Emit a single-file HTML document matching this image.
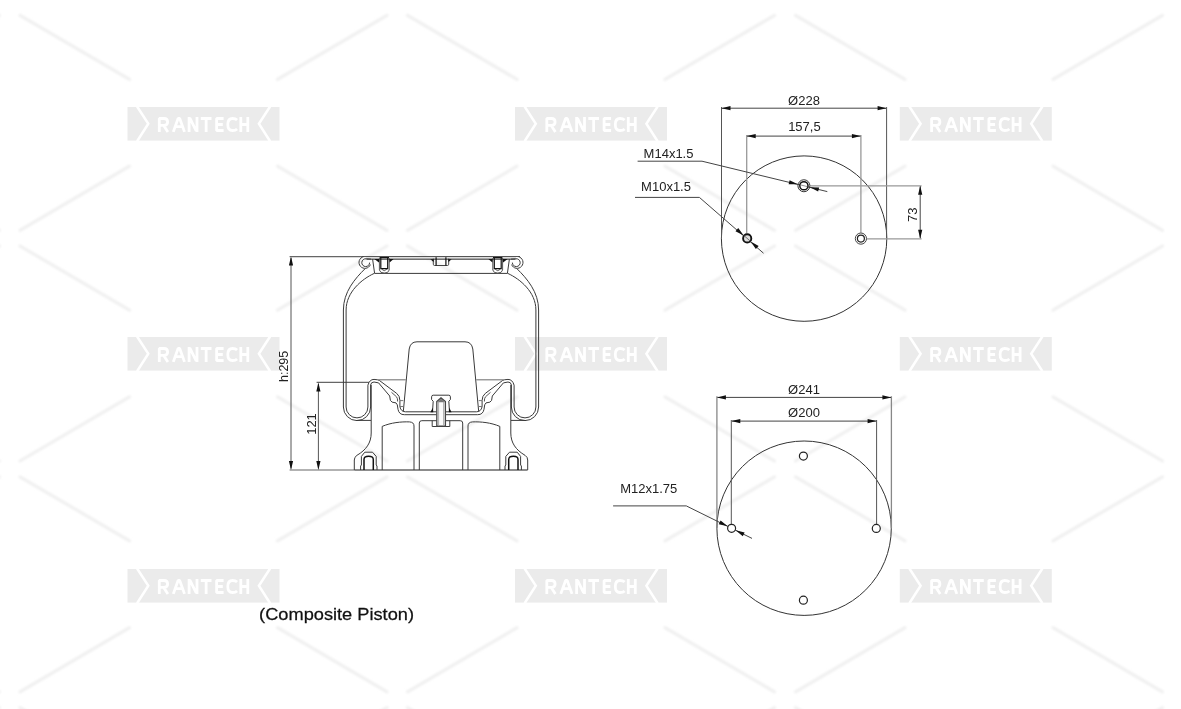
<!DOCTYPE html>
<html><head><meta charset="utf-8">
<style>
html,body{margin:0;padding:0;background:#fff;width:1181px;height:709px;overflow:hidden}
svg{display:block;filter:grayscale(1)}
text{font-family:"Liberation Sans",sans-serif}
</style></head>
<body>
<svg width="1181" height="709" viewBox="0 0 1181 709">
<defs>
<filter id="bl" x="-10%" y="-10%" width="120%" height="120%"><feGaussianBlur stdDeviation="1.2"/></filter>



</defs>

<!-- watermark grid -->
<g id="wmgrid">
  <g transform="translate(-184.2,122.8)">
  <g stroke="#f0f0f0" stroke-width="3.1" stroke-linecap="round" filter="url(#bl)">
    <line x1="-74" y1="-43.4" x2="-183.5" y2="-107.5"/>
    <line x1="74" y1="-43.4" x2="183.5" y2="-107.5"/>
    <line x1="-74" y1="43.4" x2="-183.5" y2="107.5"/>
    <line x1="74" y1="43.4" x2="183.5" y2="107.5"/>
  </g>
</g><g transform="translate(203.5,122.8)">
  <g stroke="#f0f0f0" stroke-width="3.1" stroke-linecap="round" filter="url(#bl)">
    <line x1="-74" y1="-43.4" x2="-183.5" y2="-107.5"/>
    <line x1="74" y1="-43.4" x2="183.5" y2="-107.5"/>
    <line x1="-74" y1="43.4" x2="-183.5" y2="107.5"/>
    <line x1="74" y1="43.4" x2="183.5" y2="107.5"/>
  </g>
</g><g transform="translate(591,122.8)">
  <g stroke="#f0f0f0" stroke-width="3.1" stroke-linecap="round" filter="url(#bl)">
    <line x1="-74" y1="-43.4" x2="-183.5" y2="-107.5"/>
    <line x1="74" y1="-43.4" x2="183.5" y2="-107.5"/>
    <line x1="-74" y1="43.4" x2="-183.5" y2="107.5"/>
    <line x1="74" y1="43.4" x2="183.5" y2="107.5"/>
  </g>
</g><g transform="translate(979,122.8)">
  <g stroke="#f0f0f0" stroke-width="3.1" stroke-linecap="round" filter="url(#bl)">
    <line x1="-74" y1="-43.4" x2="-183.5" y2="-107.5"/>
    <line x1="74" y1="-43.4" x2="183.5" y2="-107.5"/>
    <line x1="-74" y1="43.4" x2="-183.5" y2="107.5"/>
    <line x1="74" y1="43.4" x2="183.5" y2="107.5"/>
  </g>
</g>
  <g transform="translate(-184.2,353.5)">
  <g stroke="#f0f0f0" stroke-width="3.1" stroke-linecap="round" filter="url(#bl)">
    <line x1="-74" y1="-43.4" x2="-183.5" y2="-107.5"/>
    <line x1="74" y1="-43.4" x2="183.5" y2="-107.5"/>
    <line x1="-74" y1="43.4" x2="-183.5" y2="107.5"/>
    <line x1="74" y1="43.4" x2="183.5" y2="107.5"/>
  </g>
</g><g transform="translate(203.5,353.5)">
  <g stroke="#f0f0f0" stroke-width="3.1" stroke-linecap="round" filter="url(#bl)">
    <line x1="-74" y1="-43.4" x2="-183.5" y2="-107.5"/>
    <line x1="74" y1="-43.4" x2="183.5" y2="-107.5"/>
    <line x1="-74" y1="43.4" x2="-183.5" y2="107.5"/>
    <line x1="74" y1="43.4" x2="183.5" y2="107.5"/>
  </g>
</g><g transform="translate(591,353.5)">
  <g stroke="#f0f0f0" stroke-width="3.1" stroke-linecap="round" filter="url(#bl)">
    <line x1="-74" y1="-43.4" x2="-183.5" y2="-107.5"/>
    <line x1="74" y1="-43.4" x2="183.5" y2="-107.5"/>
    <line x1="-74" y1="43.4" x2="-183.5" y2="107.5"/>
    <line x1="74" y1="43.4" x2="183.5" y2="107.5"/>
  </g>
</g><g transform="translate(979,353.5)">
  <g stroke="#f0f0f0" stroke-width="3.1" stroke-linecap="round" filter="url(#bl)">
    <line x1="-74" y1="-43.4" x2="-183.5" y2="-107.5"/>
    <line x1="74" y1="-43.4" x2="183.5" y2="-107.5"/>
    <line x1="-74" y1="43.4" x2="-183.5" y2="107.5"/>
    <line x1="74" y1="43.4" x2="183.5" y2="107.5"/>
  </g>
</g>
  <g transform="translate(-184.2,584.3)">
  <g stroke="#f0f0f0" stroke-width="3.1" stroke-linecap="round" filter="url(#bl)">
    <line x1="-74" y1="-43.4" x2="-183.5" y2="-107.5"/>
    <line x1="74" y1="-43.4" x2="183.5" y2="-107.5"/>
    <line x1="-74" y1="43.4" x2="-183.5" y2="107.5"/>
    <line x1="74" y1="43.4" x2="183.5" y2="107.5"/>
  </g>
</g><g transform="translate(203.5,584.3)">
  <g stroke="#f0f0f0" stroke-width="3.1" stroke-linecap="round" filter="url(#bl)">
    <line x1="-74" y1="-43.4" x2="-183.5" y2="-107.5"/>
    <line x1="74" y1="-43.4" x2="183.5" y2="-107.5"/>
    <line x1="-74" y1="43.4" x2="-183.5" y2="107.5"/>
    <line x1="74" y1="43.4" x2="183.5" y2="107.5"/>
  </g>
</g><g transform="translate(591,584.3)">
  <g stroke="#f0f0f0" stroke-width="3.1" stroke-linecap="round" filter="url(#bl)">
    <line x1="-74" y1="-43.4" x2="-183.5" y2="-107.5"/>
    <line x1="74" y1="-43.4" x2="183.5" y2="-107.5"/>
    <line x1="-74" y1="43.4" x2="-183.5" y2="107.5"/>
    <line x1="74" y1="43.4" x2="183.5" y2="107.5"/>
  </g>
</g><g transform="translate(979,584.3)">
  <g stroke="#f0f0f0" stroke-width="3.1" stroke-linecap="round" filter="url(#bl)">
    <line x1="-74" y1="-43.4" x2="-183.5" y2="-107.5"/>
    <line x1="74" y1="-43.4" x2="183.5" y2="-107.5"/>
    <line x1="-74" y1="43.4" x2="-183.5" y2="107.5"/>
    <line x1="74" y1="43.4" x2="183.5" y2="107.5"/>
  </g>
</g>
  <g transform="translate(-184.2,815.1)">
  <g stroke="#f0f0f0" stroke-width="3.1" stroke-linecap="round" filter="url(#bl)">
    <line x1="-74" y1="-43.4" x2="-183.5" y2="-107.5"/>
    <line x1="74" y1="-43.4" x2="183.5" y2="-107.5"/>
    <line x1="-74" y1="43.4" x2="-183.5" y2="107.5"/>
    <line x1="74" y1="43.4" x2="183.5" y2="107.5"/>
  </g>
</g><g transform="translate(203.5,815.1)">
  <g stroke="#f0f0f0" stroke-width="3.1" stroke-linecap="round" filter="url(#bl)">
    <line x1="-74" y1="-43.4" x2="-183.5" y2="-107.5"/>
    <line x1="74" y1="-43.4" x2="183.5" y2="-107.5"/>
    <line x1="-74" y1="43.4" x2="-183.5" y2="107.5"/>
    <line x1="74" y1="43.4" x2="183.5" y2="107.5"/>
  </g>
</g><g transform="translate(591,815.1)">
  <g stroke="#f0f0f0" stroke-width="3.1" stroke-linecap="round" filter="url(#bl)">
    <line x1="-74" y1="-43.4" x2="-183.5" y2="-107.5"/>
    <line x1="74" y1="-43.4" x2="183.5" y2="-107.5"/>
    <line x1="-74" y1="43.4" x2="-183.5" y2="107.5"/>
    <line x1="74" y1="43.4" x2="183.5" y2="107.5"/>
  </g>
</g><g transform="translate(979,815.1)">
  <g stroke="#f0f0f0" stroke-width="3.1" stroke-linecap="round" filter="url(#bl)">
    <line x1="-74" y1="-43.4" x2="-183.5" y2="-107.5"/>
    <line x1="74" y1="-43.4" x2="183.5" y2="-107.5"/>
    <line x1="-74" y1="43.4" x2="-183.5" y2="107.5"/>
    <line x1="74" y1="43.4" x2="183.5" y2="107.5"/>
  </g>
</g>
  <g transform="translate(203.5,124)">
  <rect x="-76" y="-17" width="152" height="33.6" fill="#ebebeb"/>
  <polyline points="-66.4,-17.5 -55.2,-0.2 -66.4,17.2" fill="none" stroke="#fff" stroke-width="2.5"/>
  <polyline points="66.6,-17.5 55.4,-0.2 66.6,17.2" fill="none" stroke="#fff" stroke-width="2.5"/>
  <path fill="none" stroke="#fff" stroke-width="2.8" stroke-linejoin="bevel" d="M-44.2,7.9 V-5.5 H-39.5 Q-35.9,-5.5 -35.9,-2 Q-35.9,1.4 -39.5,1.4 H-44.2 M-39.8,1.4 L-35.6,7.9 M-30.2,7.9 L-25.4,-5.5 H-23.8 L-19,7.9 M-28.2,2.7 H-21 M-14.4,7.9 V-6.9 M-6.5,-6.9 V7.9 M-13.6,-5.8 L-7.3,6.8 M-2.7,-5.5 H8 M2.65,-5.5 V7.9 M20.1,-5.5 H13.1 V6.5 H20.1 M13.1,0.5 H19.3 M33.6,-3.9 Q32,-5.5 29,-5.5 Q24.3,-5.5 24.3,0.5 Q24.3,6.5 29,6.5 Q32,6.5 33.6,4.9 M37.3,-6.9 V7.9 M44.3,-6.9 V7.9 M37.3,0.5 H44.3"/>
</g><g transform="translate(591,124)">
  <rect x="-76" y="-17" width="152" height="33.6" fill="#ebebeb"/>
  <polyline points="-66.4,-17.5 -55.2,-0.2 -66.4,17.2" fill="none" stroke="#fff" stroke-width="2.5"/>
  <polyline points="66.6,-17.5 55.4,-0.2 66.6,17.2" fill="none" stroke="#fff" stroke-width="2.5"/>
  <path fill="none" stroke="#fff" stroke-width="2.8" stroke-linejoin="bevel" d="M-44.2,7.9 V-5.5 H-39.5 Q-35.9,-5.5 -35.9,-2 Q-35.9,1.4 -39.5,1.4 H-44.2 M-39.8,1.4 L-35.6,7.9 M-30.2,7.9 L-25.4,-5.5 H-23.8 L-19,7.9 M-28.2,2.7 H-21 M-14.4,7.9 V-6.9 M-6.5,-6.9 V7.9 M-13.6,-5.8 L-7.3,6.8 M-2.7,-5.5 H8 M2.65,-5.5 V7.9 M20.1,-5.5 H13.1 V6.5 H20.1 M13.1,0.5 H19.3 M33.6,-3.9 Q32,-5.5 29,-5.5 Q24.3,-5.5 24.3,0.5 Q24.3,6.5 29,6.5 Q32,6.5 33.6,4.9 M37.3,-6.9 V7.9 M44.3,-6.9 V7.9 M37.3,0.5 H44.3"/>
</g><g transform="translate(975.8,124)">
  <rect x="-76" y="-17" width="152" height="33.6" fill="#ebebeb"/>
  <polyline points="-66.4,-17.5 -55.2,-0.2 -66.4,17.2" fill="none" stroke="#fff" stroke-width="2.5"/>
  <polyline points="66.6,-17.5 55.4,-0.2 66.6,17.2" fill="none" stroke="#fff" stroke-width="2.5"/>
  <path fill="none" stroke="#fff" stroke-width="2.8" stroke-linejoin="bevel" d="M-44.2,7.9 V-5.5 H-39.5 Q-35.9,-5.5 -35.9,-2 Q-35.9,1.4 -39.5,1.4 H-44.2 M-39.8,1.4 L-35.6,7.9 M-30.2,7.9 L-25.4,-5.5 H-23.8 L-19,7.9 M-28.2,2.7 H-21 M-14.4,7.9 V-6.9 M-6.5,-6.9 V7.9 M-13.6,-5.8 L-7.3,6.8 M-2.7,-5.5 H8 M2.65,-5.5 V7.9 M20.1,-5.5 H13.1 V6.5 H20.1 M13.1,0.5 H19.3 M33.6,-3.9 Q32,-5.5 29,-5.5 Q24.3,-5.5 24.3,0.5 Q24.3,6.5 29,6.5 Q32,6.5 33.6,4.9 M37.3,-6.9 V7.9 M44.3,-6.9 V7.9 M37.3,0.5 H44.3"/>
</g>
  <g transform="translate(203.5,354)">
  <rect x="-76" y="-17" width="152" height="33.6" fill="#ebebeb"/>
  <polyline points="-66.4,-17.5 -55.2,-0.2 -66.4,17.2" fill="none" stroke="#fff" stroke-width="2.5"/>
  <polyline points="66.6,-17.5 55.4,-0.2 66.6,17.2" fill="none" stroke="#fff" stroke-width="2.5"/>
  <path fill="none" stroke="#fff" stroke-width="2.8" stroke-linejoin="bevel" d="M-44.2,7.9 V-5.5 H-39.5 Q-35.9,-5.5 -35.9,-2 Q-35.9,1.4 -39.5,1.4 H-44.2 M-39.8,1.4 L-35.6,7.9 M-30.2,7.9 L-25.4,-5.5 H-23.8 L-19,7.9 M-28.2,2.7 H-21 M-14.4,7.9 V-6.9 M-6.5,-6.9 V7.9 M-13.6,-5.8 L-7.3,6.8 M-2.7,-5.5 H8 M2.65,-5.5 V7.9 M20.1,-5.5 H13.1 V6.5 H20.1 M13.1,0.5 H19.3 M33.6,-3.9 Q32,-5.5 29,-5.5 Q24.3,-5.5 24.3,0.5 Q24.3,6.5 29,6.5 Q32,6.5 33.6,4.9 M37.3,-6.9 V7.9 M44.3,-6.9 V7.9 M37.3,0.5 H44.3"/>
</g><g transform="translate(591,354)">
  <rect x="-76" y="-17" width="152" height="33.6" fill="#ebebeb"/>
  <polyline points="-66.4,-17.5 -55.2,-0.2 -66.4,17.2" fill="none" stroke="#fff" stroke-width="2.5"/>
  <polyline points="66.6,-17.5 55.4,-0.2 66.6,17.2" fill="none" stroke="#fff" stroke-width="2.5"/>
  <path fill="none" stroke="#fff" stroke-width="2.8" stroke-linejoin="bevel" d="M-44.2,7.9 V-5.5 H-39.5 Q-35.9,-5.5 -35.9,-2 Q-35.9,1.4 -39.5,1.4 H-44.2 M-39.8,1.4 L-35.6,7.9 M-30.2,7.9 L-25.4,-5.5 H-23.8 L-19,7.9 M-28.2,2.7 H-21 M-14.4,7.9 V-6.9 M-6.5,-6.9 V7.9 M-13.6,-5.8 L-7.3,6.8 M-2.7,-5.5 H8 M2.65,-5.5 V7.9 M20.1,-5.5 H13.1 V6.5 H20.1 M13.1,0.5 H19.3 M33.6,-3.9 Q32,-5.5 29,-5.5 Q24.3,-5.5 24.3,0.5 Q24.3,6.5 29,6.5 Q32,6.5 33.6,4.9 M37.3,-6.9 V7.9 M44.3,-6.9 V7.9 M37.3,0.5 H44.3"/>
</g><g transform="translate(975.8,354)">
  <rect x="-76" y="-17" width="152" height="33.6" fill="#ebebeb"/>
  <polyline points="-66.4,-17.5 -55.2,-0.2 -66.4,17.2" fill="none" stroke="#fff" stroke-width="2.5"/>
  <polyline points="66.6,-17.5 55.4,-0.2 66.6,17.2" fill="none" stroke="#fff" stroke-width="2.5"/>
  <path fill="none" stroke="#fff" stroke-width="2.8" stroke-linejoin="bevel" d="M-44.2,7.9 V-5.5 H-39.5 Q-35.9,-5.5 -35.9,-2 Q-35.9,1.4 -39.5,1.4 H-44.2 M-39.8,1.4 L-35.6,7.9 M-30.2,7.9 L-25.4,-5.5 H-23.8 L-19,7.9 M-28.2,2.7 H-21 M-14.4,7.9 V-6.9 M-6.5,-6.9 V7.9 M-13.6,-5.8 L-7.3,6.8 M-2.7,-5.5 H8 M2.65,-5.5 V7.9 M20.1,-5.5 H13.1 V6.5 H20.1 M13.1,0.5 H19.3 M33.6,-3.9 Q32,-5.5 29,-5.5 Q24.3,-5.5 24.3,0.5 Q24.3,6.5 29,6.5 Q32,6.5 33.6,4.9 M37.3,-6.9 V7.9 M44.3,-6.9 V7.9 M37.3,0.5 H44.3"/>
</g>
  <g transform="translate(203.5,586)">
  <rect x="-76" y="-17" width="152" height="33.6" fill="#ebebeb"/>
  <polyline points="-66.4,-17.5 -55.2,-0.2 -66.4,17.2" fill="none" stroke="#fff" stroke-width="2.5"/>
  <polyline points="66.6,-17.5 55.4,-0.2 66.6,17.2" fill="none" stroke="#fff" stroke-width="2.5"/>
  <path fill="none" stroke="#fff" stroke-width="2.8" stroke-linejoin="bevel" d="M-44.2,7.9 V-5.5 H-39.5 Q-35.9,-5.5 -35.9,-2 Q-35.9,1.4 -39.5,1.4 H-44.2 M-39.8,1.4 L-35.6,7.9 M-30.2,7.9 L-25.4,-5.5 H-23.8 L-19,7.9 M-28.2,2.7 H-21 M-14.4,7.9 V-6.9 M-6.5,-6.9 V7.9 M-13.6,-5.8 L-7.3,6.8 M-2.7,-5.5 H8 M2.65,-5.5 V7.9 M20.1,-5.5 H13.1 V6.5 H20.1 M13.1,0.5 H19.3 M33.6,-3.9 Q32,-5.5 29,-5.5 Q24.3,-5.5 24.3,0.5 Q24.3,6.5 29,6.5 Q32,6.5 33.6,4.9 M37.3,-6.9 V7.9 M44.3,-6.9 V7.9 M37.3,0.5 H44.3"/>
</g><g transform="translate(591,586)">
  <rect x="-76" y="-17" width="152" height="33.6" fill="#ebebeb"/>
  <polyline points="-66.4,-17.5 -55.2,-0.2 -66.4,17.2" fill="none" stroke="#fff" stroke-width="2.5"/>
  <polyline points="66.6,-17.5 55.4,-0.2 66.6,17.2" fill="none" stroke="#fff" stroke-width="2.5"/>
  <path fill="none" stroke="#fff" stroke-width="2.8" stroke-linejoin="bevel" d="M-44.2,7.9 V-5.5 H-39.5 Q-35.9,-5.5 -35.9,-2 Q-35.9,1.4 -39.5,1.4 H-44.2 M-39.8,1.4 L-35.6,7.9 M-30.2,7.9 L-25.4,-5.5 H-23.8 L-19,7.9 M-28.2,2.7 H-21 M-14.4,7.9 V-6.9 M-6.5,-6.9 V7.9 M-13.6,-5.8 L-7.3,6.8 M-2.7,-5.5 H8 M2.65,-5.5 V7.9 M20.1,-5.5 H13.1 V6.5 H20.1 M13.1,0.5 H19.3 M33.6,-3.9 Q32,-5.5 29,-5.5 Q24.3,-5.5 24.3,0.5 Q24.3,6.5 29,6.5 Q32,6.5 33.6,4.9 M37.3,-6.9 V7.9 M44.3,-6.9 V7.9 M37.3,0.5 H44.3"/>
</g><g transform="translate(975.8,586)">
  <rect x="-76" y="-17" width="152" height="33.6" fill="#ebebeb"/>
  <polyline points="-66.4,-17.5 -55.2,-0.2 -66.4,17.2" fill="none" stroke="#fff" stroke-width="2.5"/>
  <polyline points="66.6,-17.5 55.4,-0.2 66.6,17.2" fill="none" stroke="#fff" stroke-width="2.5"/>
  <path fill="none" stroke="#fff" stroke-width="2.8" stroke-linejoin="bevel" d="M-44.2,7.9 V-5.5 H-39.5 Q-35.9,-5.5 -35.9,-2 Q-35.9,1.4 -39.5,1.4 H-44.2 M-39.8,1.4 L-35.6,7.9 M-30.2,7.9 L-25.4,-5.5 H-23.8 L-19,7.9 M-28.2,2.7 H-21 M-14.4,7.9 V-6.9 M-6.5,-6.9 V7.9 M-13.6,-5.8 L-7.3,6.8 M-2.7,-5.5 H8 M2.65,-5.5 V7.9 M20.1,-5.5 H13.1 V6.5 H20.1 M13.1,0.5 H19.3 M33.6,-3.9 Q32,-5.5 29,-5.5 Q24.3,-5.5 24.3,0.5 Q24.3,6.5 29,6.5 Q32,6.5 33.6,4.9 M37.3,-6.9 V7.9 M44.3,-6.9 V7.9 M37.3,0.5 H44.3"/>
</g>
</g>

<!-- LEFT DRAWING -->
<g id="side" fill="none">
  <!-- dimension lines -->
  <g stroke="#666" stroke-width="1.2">
    <path d="M289.6,256.6 H362 M289.6,470 H354.3 M316.6,382.4 H369"/>
  </g>
  <g stroke="#555" stroke-width="1">
    <path d="M291,258 V468.5 M318.4,383.8 V468.5"/>
    <path d="M291.00,256.60 L293.10,265.60 L288.90,265.60 Z M291.00,470.00 L288.90,461.00 L293.10,461.00 Z M318.40,382.40 L320.50,391.40 L316.30,391.40 Z M318.40,470.00 L316.30,461.00 L320.50,461.00 Z" fill="#111" stroke="none"/>
  </g>
  <text transform="translate(287.6,366.4) rotate(-90)" text-anchor="middle" font-size="12.5" fill="#222">h:295</text>
  <text transform="translate(315.5,424) rotate(-90)" text-anchor="middle" font-size="13" fill="#222">121</text>
  <!-- bottom base line -->
  <path d="M354.3,470 H527.6" stroke="#666" stroke-width="1.4"/>
  <g id="halfL" stroke="#3a3a3a" stroke-width="1">
    <!-- top plate -->
    <rect x="366" y="256.8" width="75" height="2.3" fill="#dedede" stroke="none"/>
    <path d="M362,256.5 H441" stroke="#555" stroke-width="1.1"/>
    <path d="M366.5,259.2 H441" stroke="#333"/>
    <path d="M374.4,273.4 H441"/>
    <path d="M372.6,259.1 L374.6,273.4"/>
    <!-- curl -->
    <path d="M363.6,256.7 A5.9,5.9 0 1 0 370.4,264.6"/>
    <path d="M369.6,262.6 A3.9,3.9 0 1 1 366.2,258.8 L371,259.1"/>
    <!-- top stud -->
    <path d="M379.4,258 V270 Q380,273.1 384.3,273.1 Q388.6,273.1 389.2,270 V258" stroke="#555"/>
    <path d="M380.8,257.8 V268.6 H387.7 V257.8 M379.6,257.6 H389" stroke="#111" stroke-width="1.2"/>
    <path d="M381.6,269.2 Q384.3,272.2 386.9,269.2" stroke="#444" stroke-width="0.9"/>
    <path d="M374.4,259.1 H379.3 L378.9,262.6 Z M389.3,259.1 H393.6 L389.6,262.4 Z" fill="#111" stroke="none"/>
    <!-- center top stud -->
    <path d="M433.3,258.6 V264.2 Q433.3,265.5 434.6,265.5 H441" stroke="#444"/>
    <path d="M436.1,257.3 V265.4" stroke="#111" stroke-width="1.2"/>
    <path d="M430.4,259.2 H433.8 L433.5,261.9 Z" fill="#111" stroke="none"/>
    <!-- bellows -->
    <path d="M365.2,268.6 C355,278.5 343.4,292 343.4,310 L343.4,407 A13.6,13.6 0 0 0 370.6,407 L370.6,385 Q371,382 374,382 L378.6,382.9 L389.7,396 L390.4,400.4 Q391,402.6 396,402.9 Q397.6,403.6 398,409.3 Q399,414.7 404.3,414.7 H436.5"/>
    <path d="M374,273.5 C362,279 346.1,292 346.1,310 L346.1,407 A10.9,10.9 0 0 0 367.9,407 L367.9,385.2 Q369.5,379.4 374,379.4 L377.7,379.8 L379.3,380.4 L396.7,393.4 Q399.9,396 399.9,400.4 L399.9,406.7 Q401,411.8 405.6,411.8 H436.5"/>
    <path d="M391.5,392.3 L396.5,396.8 Q397.8,398.5 397.6,401.5" stroke="#555"/>
    <path d="M357,420.4 H371" />
    <!-- piston wall -->
    <path d="M371.2,385 V433 C371.2,443 366,450 357,455.3 Q354.3,457 354.3,460 V470"/>
    <!-- bump stop -->
    <path d="M403.3,411.6 L409.2,349 Q410.4,341.8 417,341.8 H441"/>
    <path d="M378.4,379.8 H405.8" stroke="#777" stroke-width="1.1"/>
    <path d="M399.9,400.6 H403.3 M399.9,406.5 H403" stroke="#777"/>
    <!-- windows -->
    <path d="M382.2,470 V426.4 C391,422.6 401,421.6 409.5,421.9 Q414,422.2 414,426 V470"/>
    <path d="M419.3,470 V423 Q419.3,420.7 421.8,420.7 H441"/>
    <!-- bottom stud -->
    <path d="M360.6,470 V466 L361.4,465 V456.4 L364.8,452.2 H372.5 L376.2,456.4 V465 L377,466 V470"/>
    <path d="M364,470 V459.4 Q364,456.3 368.6,456.3 Q373.3,456.3 373.3,459.4 V470" stroke="#111" stroke-width="1.5"/>
    <!-- center bottom stud: nut/bolt -->
    <path d="M432.5,412 L433.2,401.2 L431.6,399.6 V396.8 Q431.6,395.2 433.2,395.2 H441"/>
    <path d="M432.2,420.7 V426.5 H441"/>
    <path d="M430.4,412.2 L432.7,407.8 L433.3,412.2 Z" fill="#111" stroke="none"/>
  </g>
  <g stroke="#3a3a3a" stroke-width="1" transform="translate(882,0) scale(-1,1)">
    <!-- top plate -->
    <rect x="366" y="256.8" width="75" height="2.3" fill="#dedede" stroke="none"/>
    <path d="M362,256.5 H441" stroke="#555" stroke-width="1.1"/>
    <path d="M366.5,259.2 H441" stroke="#333"/>
    <path d="M374.4,273.4 H441"/>
    <path d="M372.6,259.1 L374.6,273.4"/>
    <!-- curl -->
    <path d="M363.6,256.7 A5.9,5.9 0 1 0 370.4,264.6"/>
    <path d="M369.6,262.6 A3.9,3.9 0 1 1 366.2,258.8 L371,259.1"/>
    <!-- top stud -->
    <path d="M379.4,258 V270 Q380,273.1 384.3,273.1 Q388.6,273.1 389.2,270 V258" stroke="#555"/>
    <path d="M380.8,257.8 V268.6 H387.7 V257.8 M379.6,257.6 H389" stroke="#111" stroke-width="1.2"/>
    <path d="M381.6,269.2 Q384.3,272.2 386.9,269.2" stroke="#444" stroke-width="0.9"/>
    <path d="M374.4,259.1 H379.3 L378.9,262.6 Z M389.3,259.1 H393.6 L389.6,262.4 Z" fill="#111" stroke="none"/>
    <!-- center top stud -->
    <path d="M433.3,258.6 V264.2 Q433.3,265.5 434.6,265.5 H441" stroke="#444"/>
    <path d="M436.1,257.3 V265.4" stroke="#111" stroke-width="1.2"/>
    <path d="M430.4,259.2 H433.8 L433.5,261.9 Z" fill="#111" stroke="none"/>
    <!-- bellows -->
    <path d="M365.2,268.6 C355,278.5 343.4,292 343.4,310 L343.4,407 A13.6,13.6 0 0 0 370.6,407 L370.6,385 Q371,382 374,382 L378.6,382.9 L389.7,396 L390.4,400.4 Q391,402.6 396,402.9 Q397.6,403.6 398,409.3 Q399,414.7 404.3,414.7 H436.5"/>
    <path d="M374,273.5 C362,279 346.1,292 346.1,310 L346.1,407 A10.9,10.9 0 0 0 367.9,407 L367.9,385.2 Q369.5,379.4 374,379.4 L377.7,379.8 L379.3,380.4 L396.7,393.4 Q399.9,396 399.9,400.4 L399.9,406.7 Q401,411.8 405.6,411.8 H436.5"/>
    <path d="M391.5,392.3 L396.5,396.8 Q397.8,398.5 397.6,401.5" stroke="#555"/>
    <path d="M357,420.4 H371" />
    <!-- piston wall -->
    <path d="M371.2,385 V433 C371.2,443 366,450 357,455.3 Q354.3,457 354.3,460 V470"/>
    <!-- bump stop -->
    <path d="M403.3,411.6 L409.2,349 Q410.4,341.8 417,341.8 H441"/>
    <path d="M378.4,379.8 H405.8" stroke="#777" stroke-width="1.1"/>
    <path d="M399.9,400.6 H403.3 M399.9,406.5 H403" stroke="#777"/>
    <!-- windows -->
    <path d="M382.2,470 V426.4 C391,422.6 401,421.6 409.5,421.9 Q414,422.2 414,426 V470"/>
    <path d="M419.3,470 V423 Q419.3,420.7 421.8,420.7 H441"/>
    <!-- bottom stud -->
    <path d="M360.6,470 V466 L361.4,465 V456.4 L364.8,452.2 H372.5 L376.2,456.4 V465 L377,466 V470"/>
    <path d="M364,470 V459.4 Q364,456.3 368.6,456.3 Q373.3,456.3 373.3,459.4 V470" stroke="#111" stroke-width="1.5"/>
    <!-- center bottom stud: nut/bolt -->
    <path d="M432.5,412 L433.2,401.2 L431.6,399.6 V396.8 Q431.6,395.2 433.2,395.2 H441"/>
    <path d="M432.2,420.7 V426.5 H441"/>
    <path d="M430.4,412.2 L432.7,407.8 L433.3,412.2 Z" fill="#111" stroke="none"/>
  </g>
  <path d="M436.8,426.1 V401.5 L441,397.9 L445.4,401.5 V426.1 Z" fill="#fbfbfb" stroke="#444" stroke-width="1.3"/>
  <path d="M437.3,402.2 L441,398.6 L444.9,402.2 Z" fill="#777" stroke="none"/>
  <path d="M438.6,402 V425.5 M443.6,402 V425.5" stroke="#999" stroke-width="0.8"/>
</g>

<!-- TOP CIRCLE VIEW -->
<g id="top" fill="none">
  <circle cx="804.1" cy="238.6" r="82.7" stroke="#333" stroke-width="1"/>
  <g stroke="#555" stroke-width="1">
    <path d="M721.5,107 V238.6 M886.6,107 V238.6"/>
  </g>
  <g stroke="#999" stroke-width="1.3">
    <path d="M746.7,135 V233.6 M860.9,135 V232.8"/>
    <path d="M810.2,185.8 H921.6 M866.6,238.8 H921.6"/>
  </g>
  <g stroke="#444" stroke-width="1">
    <path d="M722,108.2 H886 M747,136.1 H860.5 M920.2,186.5 V238"/>
    <path d="M637.6,161.2 H702 L827.3,191.6"/>
    <path d="M635,197.4 H699.4 L763.5,253.2"/>
  </g>
  <path d="M721.50,108.20 L730.50,106.10 L730.50,110.30 Z M886.60,108.20 L877.60,110.30 L877.60,106.10 Z M746.70,136.10 L755.70,134.00 L755.70,138.20 Z M860.90,136.10 L851.90,138.20 L851.90,134.00 Z M920.20,185.80 L922.30,194.80 L918.10,194.80 Z M920.20,238.80 L918.10,229.80 L922.30,229.80 Z M797.87,184.30 L788.63,184.23 L789.61,180.15 Z M809.91,187.25 L819.16,187.40 L818.14,191.47 Z M743.71,235.41 L735.51,231.14 L738.24,227.95 Z M750.61,241.49 L758.68,245.99 L755.86,249.10 Z" fill="#111"/>
  <circle cx="803.9" cy="185.75" r="6" stroke="#333" stroke-width="1"/>
  <circle cx="803.9" cy="185.75" r="4.1" stroke="#111" stroke-width="1.5" fill="#fff"/>
  <path d="M800.5,184.9 L807.3,186.6" stroke="#777" stroke-width="0.8"/>
  <circle cx="747.2" cy="238.4" r="4.1" stroke="#111" stroke-width="1.9" fill="#ddd"/>
  <path d="M743.9,235.5 L750.5,241.3" stroke="#555" stroke-width="0.8"/>
  <circle cx="860.9" cy="238.6" r="5.6" stroke="#444" stroke-width="1"/>
  <circle cx="860.9" cy="238.6" r="3.5" stroke="#222" stroke-width="1.2"/>
  <g fill="#222" font-size="13" text-anchor="middle">
    <text x="804" y="104.5">Ø228</text>
    <text x="804.4" y="131.1">157,5</text>
    <text transform="translate(916.8,214.7) rotate(-90)">73</text>
  </g>
  <g fill="#222" font-size="13">
    <text x="643.6" y="157.8">M14x1.5</text>
    <text x="641.1" y="190.5">M10x1.5</text>
  </g>
</g>

<!-- BOTTOM CIRCLE VIEW -->
<g id="bot" fill="none">
  <circle cx="804.1" cy="528.2" r="87.2" stroke="#333" stroke-width="1"/>
  <g stroke="#888" stroke-width="1.3">
    <path d="M716.9,396.3 V528.2 M891.4,396.3 V528.2"/>
  </g>
  <g stroke="#555" stroke-width="1">
    <path d="M731.3,420 V524.2 M876.6,420 V524.3"/>
  </g>
  <g stroke="#444" stroke-width="1">
    <path d="M717.5,397.4 H891 M732,421.1 H876"/>
    <path d="M613.1,505.9 H686.3 L752,538.4"/>
  </g>
  <path d="M716.90,397.40 L725.90,395.30 L725.90,399.50 Z M891.40,397.40 L882.40,399.50 L882.40,395.30 Z M731.30,421.10 L740.30,419.00 L740.30,423.20 Z M876.60,421.10 L867.60,423.20 L867.60,419.00 Z M727.75,526.35 L718.75,524.25 L720.61,520.49 Z M735.64,530.26 L744.63,532.39 L742.76,536.15 Z" fill="#111"/>
  <g stroke="#222" stroke-width="1.2" fill="#fff">
    <circle cx="803.4" cy="456.1" r="4"/>
    <circle cx="731.6" cy="528.3" r="4"/>
    <circle cx="876.3" cy="528.4" r="4"/>
    <circle cx="803.4" cy="600.2" r="4"/>
  </g>
  <g fill="#222" font-size="13" text-anchor="middle">
    <text x="804" y="394">Ø241</text>
    <text x="804" y="417.3">Ø200</text>
  </g>
  <text x="620.2" y="493.3" fill="#222" font-size="13">M12x1.75</text>
</g>

<text transform="translate(259.1,620.2) scale(1.105,1)" x="0" y="0" font-size="16.5" fill="#111" stroke="#111" stroke-width="0.25">(Composite Piston)</text>
</svg>
</body></html>
